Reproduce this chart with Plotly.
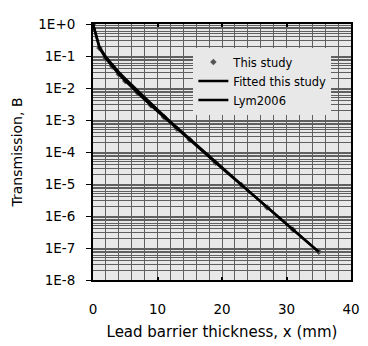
import plotly.graph_objects as go

# ---- data ----
study_x = [0, 1, 2, 3, 4, 5, 7, 9, 11, 13, 15, 19, 23, 27, 31, 35]
study_b = [1.0, 0.178, 0.083, 0.047, 0.027, 0.0166, 0.0068, 0.00285, 0.00123,
           5.37e-4, 2.40e-4, 4.62e-5, 9.33e-6, 1.86e-6, 3.8e-7, 7.6e-8]

fit_x = [0, 1, 2, 3, 4, 5, 6, 7, 8, 10, 12, 15, 20, 25, 30, 35]
fit_b = [1.0, 0.178, 0.0832, 0.0468, 0.0269, 0.0166, 0.0105, 0.00676, 0.00437,
         0.00186, 8.13e-4, 2.40e-4, 3.09e-5, 4.17e-6, 5.62e-7, 7.59e-8]

lym_x = [0, 1, 2, 3, 4, 5, 6, 7, 8, 10, 12, 15, 20, 25, 30, 35]
lym_b = [1.0, 0.191, 0.0933, 0.0537, 0.0316, 0.0195, 0.0123, 0.00794, 0.00501,
         0.00209, 8.91e-4, 2.57e-4, 3.24e-5, 4.27e-6, 5.62e-7, 7.59e-8]

y_tickvals = [1e0, 1e-1, 1e-2, 1e-3, 1e-4, 1e-5, 1e-6, 1e-7, 1e-8]
y_ticktext = ["1E+0", "1E-1", "1E-2", "1E-3", "1E-4", "1E-5", "1E-6", "1E-7", "1E-8"]

GRID = "#606060"
FONT = "DejaVu Sans"

fig = go.Figure()
fig.add_trace(go.Scatter(x=study_x, y=study_b, mode="markers", name="This study",
                         marker=dict(symbol="diamond", size=5, color="#555555")))
fig.add_trace(go.Scatter(x=fit_x, y=fit_b, mode="lines", name="Fitted this study",
                         line=dict(color="black", width=2.5)))
fig.add_trace(go.Scatter(x=lym_x, y=lym_b, mode="lines", name="Lym2006",
                         line=dict(color="black", width=2.5)))

# page body has an 8px default margin, so the figure is 8px smaller
fig.update_layout(
    width=360, height=338,
    margin=dict(l=80, r=10, t=8, b=57),
    paper_bgcolor="white", plot_bgcolor="#e8e8e8",
    font=dict(family=FONT, size=13.5, color="black"),
    showlegend=True,
    legend=dict(x=0.389, y=0.908, xanchor="left", yanchor="top",
                bgcolor="#e8e8e8", borderwidth=0,
                font=dict(family=FONT, size=11.5, color="black")),
    xaxis=dict(range=[0, 40], tick0=0, dtick=10, showgrid=True, gridcolor=GRID, gridwidth=1,
               minor=dict(dtick=2, showgrid=True, gridcolor=GRID, gridwidth=1),
               zeroline=False, showline=True, linecolor="black", linewidth=2, mirror="ticks",
               ticks="inside", ticklen=3, tickwidth=2, tickcolor="black",
               ticklabelstandoff=16, tickfont=dict(size=13.5),
               title=dict(text="Lead barrier thickness, x (mm)", font=dict(size=15), standoff=10)),
    yaxis=dict(type="log", range=[-8, 0], tickvals=y_tickvals, ticktext=y_ticktext,
               showgrid=True, gridcolor=GRID, gridwidth=1,
               minor=dict(dtick="D1", showgrid=True, gridcolor=GRID, gridwidth=1),
               zeroline=False, showline=True, linecolor="black", linewidth=2, mirror=True,
               ticks="outside", ticklen=5, tickcolor="black", ticklabelstandoff=8,
               tickfont=dict(size=13.5),
               title=dict(text="Transmission, B", font=dict(size=14), standoff=12)),
)

fig.write_html("out.html")
